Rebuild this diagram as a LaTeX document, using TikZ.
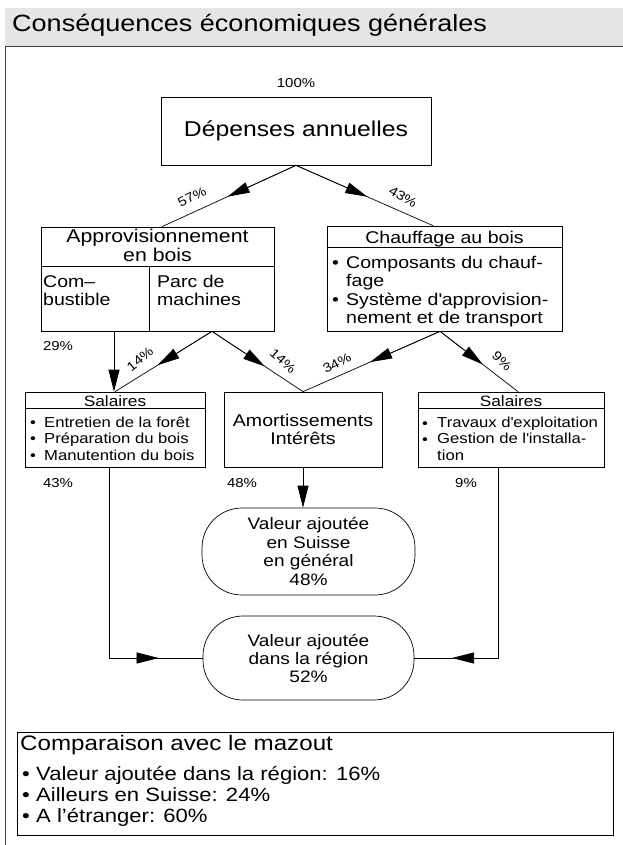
\documentclass[tikz,border=0pt]{standalone}
\usepackage{fontspec}
\setmainfont{Liberation Sans}[FakeStretch=1.15]
\usetikzlibrary{arrows.meta,calc}

\tikzset{
	boite/.style={draw, line width=0.7pt, inner sep=0pt},
	rond/.style={draw, line width=0.7pt, rounded corners=40pt, inner sep=0pt},
	trait/.style={line width=0.7pt},
	fl/.style={line width=0.7pt, -{Triangle[length=22pt,width=11pt]}},
	pct/.style={font=\fontsize{13}{15}\selectfont, inner sep=0pt},
}

\begin{document}
\begin{tikzpicture}[x=1pt, y=1pt]
	\useasboundingbox (0,0) rectangle (623,-845);
	%bandeau du titre
	\fill[black!10] (5,-8) rectangle (623,-46);
	\draw[black!75, line width=0.8pt] (5,-845) -- (5,-46) -- (623,-46);
	\node[anchor=base west, inner sep=0pt, font=\fontsize{23.5}{26}\selectfont] (titre) at (12,-32) {Conséquences économiques générales};
	%les boites du haut
	\node[boite, minimum width=270pt, minimum height=68pt, font=\fontsize{21.5}{24}\selectfont] (dep) at (296,-131) {Dépenses annuelles};
	\node[pct] (p100) at (296,-83) {100\%};
	\node[boite, minimum width=233pt, minimum height=104pt] (appro) at (157.5,-279) {};
	\draw[trait] ($(appro.north west)+(0,-40)$) -- ($(appro.north east)+(0,-40)$);
	\draw[trait] ($(appro.north west)+(109,-40)$) -- ($(appro.south west)+(109,0)$);
	\node[anchor=base, align=center, inner sep=0pt, font=\fontsize{18.5}{17}\selectfont] (approt) at (157.5,-261) {Approvisionnement\\en bois};
	\node[anchor=base west, align=left, inner sep=0pt, font=\fontsize{17}{18}\selectfont] (comb) at (43,-305) {Com--\\bustible};
	\node[anchor=base west, align=left, inner sep=0pt, font=\fontsize{17}{18}\selectfont] (parc) at (157,-305) {Parc de\\machines};
	\node[boite, minimum width=235pt, minimum height=105pt] (chauf) at (444.5,-278.5) {};
	\draw[trait] ($(chauf.north west)+(0,-22)$) -- ($(chauf.north east)+(0,-22)$);
	\node[anchor=base, inner sep=0pt, font=\fontsize{17}{18}\selectfont] (chauft) at (444.5,-243) {Chauffage au bois};
	\node[anchor=base west, inner sep=0pt, font=\fontsize{17}{18}\selectfont] (puce1) at (332,-268) {•};
	\node[anchor=base west, align=left, inner sep=0pt, font=\fontsize{17}{18}\selectfont] (compo) at (346,-286) {Composants du chauf-\\fage};
	\node[anchor=base west, inner sep=0pt, font=\fontsize{17}{18}\selectfont] (puce2) at (332,-305) {•};
	\node[anchor=base west, align=left, inner sep=0pt, font=\fontsize{17}{18}\selectfont] (syst) at (346,-323) {Système d\textquotesingle approvision-\\nement et de transport};
	%les boites du milieu
	\node[boite, minimum width=180pt, minimum height=75pt] (sal1) at (115,-429.5) {};
	\draw[trait] ($(sal1.north west)+(0,-17)$) -- ($(sal1.north east)+(0,-17)$);
	\node[anchor=base, inner sep=0pt, font=\fontsize{15}{16}\selectfont] (sal1t) at (115,-406) {Salaires};
	\node[anchor=base west, align=left, inner sep=0pt, font=\fontsize{14.5}{16.3}\selectfont] (puces1) at (30,-460) {•\\•\\•};
	\node[anchor=base west, align=left, inner sep=0pt, font=\fontsize{14.5}{16.3}\selectfont] (sal1l) at (44,-460) {Entretien de la forêt\\Préparation du bois\\Manutention du bois};
	\node[boite, minimum width=158pt, minimum height=75pt, align=center, font=\fontsize{17}{18}\selectfont] (amort) at (303,-429.5) {Amortissements\\Intérêts};
	\node[boite, minimum width=186pt, minimum height=75pt] (sal2) at (511,-429.5) {};
	\draw[trait] ($(sal2.north west)+(0,-17)$) -- ($(sal2.north east)+(0,-17)$);
	\node[anchor=base, inner sep=0pt, font=\fontsize{15}{16}\selectfont] (sal2t) at (511,-406) {Salaires};
	\node[anchor=base west, align=left, inner sep=0pt, font=\fontsize{14.5}{16.3}\selectfont] (puces2) at (422,-444.3) {•\\•};
	\node[anchor=base west, align=left, inner sep=0pt, font=\fontsize{14.5}{16.3}\selectfont] (sal2l) at (437,-460) {Travaux d\textquotesingle exploitation\\Gestion de l\textquotesingle installa-\\tion};
	%valeur ajoutee
	\node[rond, minimum width=213pt, minimum height=87pt, align=center, font=\fontsize{16.6}{18.5}\selectfont] (suisse) at (308.5,-551.5) {Valeur ajoutée\\en Suisse\\en général\\48\%};
	\node[rond, minimum width=211pt, minimum height=84pt, align=center, font=\fontsize{16.6}{18}\selectfont] (region) at (308.5,-658) {Valeur ajoutée\\dans la région\\52\%};
	%comparaison
	\node[boite, minimum width=596pt, minimum height=103pt] (comp) at (315,-783.5) {};
	\node[anchor=base west, inner sep=0pt, font=\fontsize{21}{24}\selectfont] (compt) at (20,-750) {Comparaison avec le mazout};
	\node[anchor=base west, align=left, inner sep=0pt, font=\fontsize{19.2}{21}\selectfont] (puces3) at (22,-822) {•\\•\\•};
	\node[anchor=base west, align=left, inner sep=0pt, font=\fontsize{19.2}{21}\selectfont] (compl) at (36,-822) {Valeur ajoutée dans la région: 16\%\\Ailleurs en Suisse: 24\%\\A l’étranger: 60\%};
	%points d'attache
	\coordinate (ag) at ([xshift=4.5pt]appro.north);
	\coordinate (ad) at ([xshift=-11.5pt]chauf.north);
	\coordinate (aa) at ([xshift=-43.5pt]appro.south);
	\coordinate (ab) at ([xshift=54.5pt]appro.south);
	\coordinate (cb) at ([xshift=-4.5pt]chauf.south);
	\coordinate (sd) at ([xshift=7pt]sal2.north);
	\coordinate (s1) at ([xshift=-6pt]sal1.south);
	\coordinate (s2) at ([xshift=-13pt]sal2.south);
	\coordinate (c1) at (s1 |- region.west);
	\coordinate (c2) at (s2 |- region.east);
	%les fleches
	\draw[trait] (dep.south) -- (ag);
	\draw[fl] (dep.south) -- ($(dep.south)!0.51!(ag)$);
	\draw[trait] (dep.south) -- (ad);
	\draw[fl] (dep.south) -- ($(dep.south)!0.52!(ad)$);
	\draw[fl] (aa) -- (aa |- sal1.north);
	\draw[trait] (ab) -- (sal1.north);
	\draw[fl] (ab) -- ($(ab)!0.56!(sal1.north)$);
	\draw[trait] (ab) -- (amort.north);
	\draw[fl] (ab) -- ($(ab)!0.58!(amort.north)$);
	\draw[trait] (cb) -- (amort.north);
	\draw[fl] (cb) -- ($(cb)!0.51!(amort.north)$);
	\draw[trait] (cb) -- (sd);
	\draw[fl] (cb) -- ($(cb)!0.55!(sd)$);
	\draw[fl] (amort.south) -- (amort.south |- suisse.north);
	\draw[trait] (s1) -- (c1) -- (region.west);
	\draw[fl] (c1) -- ($(c1)!0.53!(region.west)$);
	\draw[trait] (s2) -- (c2) -- (region.east);
	\draw[fl] (c2) -- ($(c2)!0.55!(region.east)$);
	%les pourcentages
	\node[pct, rotate=27] (p57) at (192,-197) {57\%};
	\node[pct, rotate=-30] (p43) at (403,-197) {43\%};
	\node[pct] (p29) at (58,-346) {29\%};
	\node[pct, rotate=40] (p14a) at (140,-359) {14\%};
	\node[pct, rotate=-42] (p14b) at (283,-361) {14\%};
	\node[pct, rotate=28] (p34) at (337,-363) {34\%};
	\node[pct, rotate=-45] (p9a) at (502,-361) {9\%};
	\node[pct] (p43b) at (58,-483) {43\%};
	\node[pct] (p48) at (242,-483) {48\%};
	\node[pct] (p9b) at (466,-483) {9\%};
\end{tikzpicture}
\end{document}
